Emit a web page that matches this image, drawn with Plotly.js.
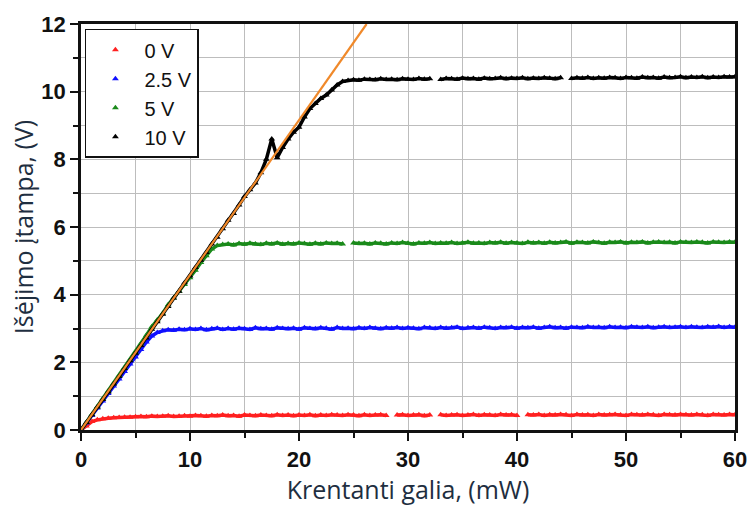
<!DOCTYPE html>
<html>
<head>
<meta charset="utf-8">
<script src="https://cdn.plot.ly/plotly-3.0.1.min.js"></script>
<style>html,body{margin:0;padding:0;background:#fff;}#chart{width:755px;height:506px;}</style>
</head>
<body>
<div id="chart"></div>
<script>
// Incident power, mW
const power = [0,0.5,1,1.5,2,2.5,3,3.5,4,4.5,5,5.5,6,6.5,7,7.5,8,8.5,9,9.5,10,10.5,11,11.5,12,12.5,13,13.5,14,14.5,15,15.5,16,16.5,17,17.5,18,18.5,19,19.5,20,20.5,21,21.5,22,22.5,23,23.5,24,24.5,25,25.5,26,26.5,27,27.5,28,28.5,29,29.5,30,30.5,31,31.5,32,32.5,33,33.5,34,34.5,35,35.5,36,36.5,37,37.5,38,38.5,39,39.5,40,40.5,41,41.5,42,42.5,43,43.5,44,44.5,45,45.5,46,46.5,47,47.5,48,48.5,49,49.5,50,50.5,51,51.5,52,52.5,53,53.5,54,54.5,55,55.5,56,56.5,57,57.5,58,58.5,59,59.5,60];

// Output voltage, V
const v0 = [0,0.12,0.25,0.3,0.33,0.35,0.36,0.37,0.38,0.38,0.39,0.4,0.39,0.41,0.4,0.41,0.42,0.4,0.41,0.42,0.41,0.43,0.42,0.41,0.43,0.42,0.44,0.42,0.43,0.41,0.44,0.43,0.42,0.44,0.43,0.42,0.45,0.43,0.44,0.42,0.44,0.43,0.45,0.42,0.44,0.43,0.45,0.44,0.43,0.45,0.44,0.42,0.45,0.43,0.44,0.45,0.43,null,0.44,0.45,0.43,0.44,0.45,0.42,0.44,null,0.45,0.43,0.44,0.45,0.43,0.44,0.46,0.43,0.45,0.44,0.43,0.46,0.44,0.45,0.43,null,0.45,0.44,0.46,0.43,0.45,0.44,0.46,0.45,0.43,0.46,0.44,0.45,0.43,0.46,0.44,0.45,0.46,0.44,0.43,0.46,0.45,0.44,0.46,0.45,0.43,0.46,0.45,0.44,0.46,0.45,0.44,0.46,0.45,0.43,0.46,0.45,0.44,0.46,0.45];
const v25 = [0,0.21,0.43,0.65,0.86,1.08,1.3,1.51,1.73,1.95,2.16,2.38,2.6,2.78,2.88,2.93,2.96,2.95,2.98,2.96,2.99,2.97,3.0,2.96,2.99,3.01,2.97,3.0,2.98,3.01,2.99,2.97,3.02,2.99,3.0,2.98,3.02,3.0,2.99,3.01,2.98,3.02,3.0,2.99,3.02,3.01,2.98,3.03,3.0,3.01,2.99,3.02,3.0,3.03,3.01,2.99,3.02,3.01,3.03,3.0,3.02,3.01,2.99,3.03,3.02,3.0,3.03,3.01,3.02,3.04,3.0,3.02,3.03,3.01,3.04,3.02,3.0,3.03,3.02,3.04,3.01,3.03,3.02,3.04,3.01,3.03,3.05,3.02,3.03,3.01,3.04,3.03,3.02,3.05,3.03,3.04,3.02,3.05,3.03,3.04,3.02,3.05,3.04,3.03,3.05,3.02,3.04,3.05,3.03,3.04,3.05,3.03,3.05,3.04,3.03,3.05,3.04,3.06,3.03,3.05,3.04];
const v5 = [0,0.23,0.46,0.69,0.92,1.15,1.38,1.61,1.84,2.07,2.3,2.55,2.8,3.05,3.25,3.45,3.7,3.9,4.1,4.3,4.5,4.72,4.95,5.15,5.35,5.45,5.48,5.5,5.47,5.51,5.49,5.52,5.5,5.48,5.52,5.5,5.53,5.49,5.51,5.5,5.53,5.51,5.49,5.52,5.5,5.53,5.51,5.52,5.5,null,5.53,5.51,5.52,5.5,5.53,5.52,5.5,5.53,5.51,5.54,5.52,5.5,5.53,5.52,5.54,5.51,5.53,5.52,5.54,5.51,5.53,5.55,5.52,5.53,5.51,5.54,5.53,5.55,5.52,5.54,5.53,5.51,5.55,5.53,5.54,5.52,5.55,5.53,5.54,5.56,5.52,5.55,5.54,5.53,5.56,5.54,5.52,5.55,5.54,5.56,5.53,5.55,5.54,5.56,5.53,5.55,5.56,5.54,5.55,5.53,5.56,5.55,5.54,5.56,5.55,5.53,5.56,5.55,5.54,5.56,5.55];
const v10 = [0,0.22,0.45,0.68,0.9,1.12,1.36,1.58,1.82,2.05,2.27,2.5,2.72,2.98,3.2,3.42,3.65,3.9,4.1,4.35,4.55,4.8,5.02,5.25,5.5,5.7,5.95,6.2,6.4,6.65,6.9,7.1,7.3,7.6,8.0,8.6,8.05,8.35,8.6,8.8,8.95,9.25,9.5,9.65,9.8,9.9,10.05,10.2,10.3,10.33,10.35,10.34,10.37,10.36,10.35,10.38,10.36,10.37,10.35,10.38,10.37,10.36,10.39,10.37,10.38,null,10.36,10.39,10.38,10.37,10.4,10.38,10.39,10.37,10.4,10.38,10.39,10.41,10.38,10.4,10.39,10.41,10.38,10.4,10.39,10.41,10.4,10.38,10.41,null,10.39,10.41,10.4,10.42,10.39,10.41,10.4,10.42,10.41,10.39,10.42,10.41,10.4,10.43,10.41,10.42,10.4,10.43,10.41,10.42,10.44,10.41,10.43,10.42,10.44,10.41,10.43,10.42,10.44,10.43,10.44];

const seriesNames = ["0 V", "2.5 V", "5 V", "10 V"];
const seriesColors = ["#ff2020", "#1010ff", "#1a8a1a", "#000000"];

// Linear fit line
const fitX = [0, 26.2];
const fitY = [0, 12];

const xTitle = "Krentanti galia, (mW)";
const yTitle = "Išėjimo įtampa, (V)";

const ys = [v0, v25, v5, v10];
const traces = [];
ys.forEach((y, i) => {
  traces.push({
    x: power, y: y, type: "scatter", mode: "lines", showlegend: false,
    line: {color: seriesColors[i], width: 3.5}, connectgaps: false, hoverinfo: "skip"
  });
  traces.push({
    x: power, y: y, type: "scatter", mode: "markers", name: seriesNames[i],
    marker: {symbol: "triangle-up", size: 6, color: seriesColors[i]}
  });
});
traces.push({
  x: fitX, y: fitY, type: "scatter", mode: "lines", showlegend: false,
  line: {color: "#f0892a", width: 2.2}
});

const tickFont = {family: "Liberation Sans, Arial, sans-serif", size: 22, color: "#111", weight: "bold"};
const titleFont = {family: "Open Sans, sans-serif", size: 25, color: "#1e2e40"};

const layout = {
  width: 755, height: 506,
  margin: {l: 81, r: 20, t: 24, b: 76},
  paper_bgcolor: "#fff", plot_bgcolor: "#fff",
  showlegend: true,
  legend: {
    x: 0.006, y: 0.988, xanchor: "left", yanchor: "top",
    bgcolor: "#fff", bordercolor: "#111", borderwidth: 1.5,
    font: {family: "Liberation Sans, Arial, sans-serif", size: 20, color: "#111"},
    itemwidth: 48, tracegroupgap: 0
  },
  xaxis: {
    range: [0, 60], dtick: 10, tick0: 0,
    showline: true, linecolor: "#111", linewidth: 2.8, mirror: true,
    ticks: "outside", ticklen: 8, tickwidth: 2, tickcolor: "#111",
    showgrid: true, gridcolor: "#bdbdbd", gridwidth: 1,
    minor: {dtick: 5, ticks: "outside", ticklen: 5, tickwidth: 2, tickcolor: "#111", showgrid: true, gridcolor: "#bdbdbd", gridwidth: 1},
    zeroline: false, tickfont: tickFont,
    title: {text: xTitle, font: titleFont, standoff: 6}
  },
  yaxis: {
    range: [0, 12], dtick: 2, tick0: 0,
    showline: true, linecolor: "#111", linewidth: 2.8, mirror: true,
    ticks: "outside", ticklen: 8, tickwidth: 2, tickcolor: "#111",
    showgrid: true, gridcolor: "#bdbdbd", gridwidth: 1,
    minor: {dtick: 1, ticks: "outside", ticklen: 5, tickwidth: 2, tickcolor: "#111", showgrid: true, gridcolor: "#bdbdbd", gridwidth: 1},
    zeroline: false, tickfont: tickFont,
    title: {text: yTitle, font: titleFont, standoff: 1}
  }
};

Plotly.newPlot("chart", traces, layout, {displayModeBar: false, staticPlot: true});
</script>
</body>
</html>
